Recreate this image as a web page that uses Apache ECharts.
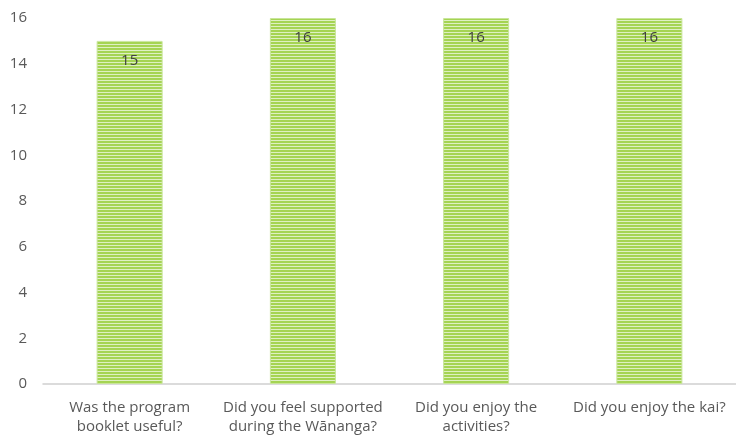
<!DOCTYPE html>
<html><head><meta charset="utf-8">
<script src="https://cdn.jsdelivr.net/npm/echarts@6/dist/echarts.min.js"></script>
<style>html,body{margin:0;padding:0;background:#fff}#c{width:736px;height:437px}</style>
</head><body><div id="c"></div>
<script>
const categories = ["Was the program\nbooklet useful?", "Did you feel supported\nduring the Wānanga?", "Did you enjoy the\nactivities?", "Did you enjoy the kai?"];
const values = [15, 16, 16, 16];
const yTicks = {min: 0, max: 16, interval: 2};

const pc = document.createElement('canvas');
pc.width = 4; pc.height = 3;
const g = pc.getContext('2d');
g.fillStyle = '#a5d453'; g.fillRect(0,0,4,3);
g.fillStyle = '#def0c2'; g.fillRect(0,2,4,1);

const chart = echarts.init(document.getElementById('c'));
chart.setOption({
  animation: false,
  grid: {left: 43, right: -5, top: 18, bottom: 53},
  xAxis: {
    type: 'category', data: categories,
    axisLine: {lineStyle: {color: '#d0d0d0', width: 1.5}},
    axisTick: {show: false},
    axisLabel: {color: '#595959', fontSize: 15, fontFamily: 'Open Sans', margin: 14, lineHeight: 19, interval: 0}
  },
  yAxis: {
    type: 'value', min: yTicks.min, max: yTicks.max, interval: yTicks.interval,
    splitLine: {show: false}, axisLine: {show: false}, axisTick: {show: false},
    axisLabel: {color: '#595959', fontSize: 15, fontFamily: 'Open Sans', margin: 16}
  },
  series: [{
    type: 'bar', data: values, barWidth: 66,
    itemStyle: {color: {image: pc, repeat: 'repeat'}, borderColor: '#c8e59a', borderWidth: 1},
    label: {show: true, position: 'insideTop', distance: 12, color: '#404040', fontSize: 15, fontFamily: 'Open Sans'}
  }]
});
</script></body></html>
